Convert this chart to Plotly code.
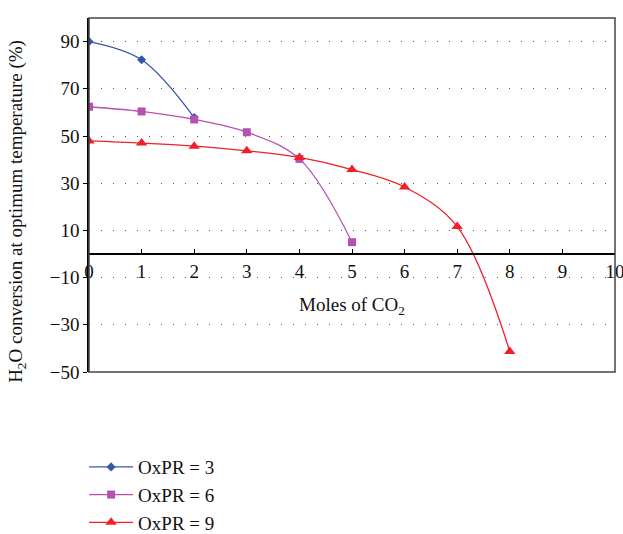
import plotly.graph_objects as go

x3 = [0, 1, 2]
y3 = [90, 82.3, 57.8]
x6 = [0, 1, 2, 3, 4, 5]
y6 = [62.4, 60.4, 57.0, 51.6, 40.3, 5.0]
x9 = [0, 1, 2, 3, 4, 5, 6, 7, 8]
y9 = [47.9, 47.0, 45.7, 43.7, 40.9, 35.8, 28.4, 11.6, -41.3]
names = ["OxPR = 3", "OxPR = 6", "OxPR = 9"]
xticks = list(range(0, 11))
yticks = [-50, -30, -10, 10, 30, 50, 70, 90]
ytitle = "H<sub>2</sub>O conversion at optimum temperature (%)"
xtitle = "Moles of CO<sub>2</sub>"

FONT = "Liberation Serif"
FS = 19

fig = go.Figure()
fig.add_trace(go.Scatter(x=x3, y=y3, name=names[0], mode="lines+markers",
                         line=dict(color="#3556ad", width=1.3, shape="spline"),
                         marker=dict(symbol="diamond", size=7, color="#3556ad")))
fig.add_trace(go.Scatter(x=x6, y=y6, name=names[1], mode="lines+markers",
                         line=dict(color="#b552b0", width=1.3, shape="spline"),
                         marker=dict(symbol="square", size=8, color="#b552b0")))
fig.add_trace(go.Scatter(x=x9, y=y9, name=names[2], mode="lines+markers",
                         line=dict(color="#f02028", width=1.3, shape="spline"),
                         marker=dict(symbol="triangle-up", size=10, color="#f02028")))

fig.update_layout(
    width=623, height=534,
    margin=dict(l=89, r=8, t=18, b=162, autoexpand=False),
    plot_bgcolor="white", paper_bgcolor="white",
    font=dict(family=FONT, size=FS, color="#111"),
    showlegend=True,
    legend=dict(xref="container", yref="container", x=0.135, xanchor="left",
                y=0.161, yanchor="top",
                font=dict(family=FONT, size=FS), tracegroupgap=0, itemwidth=44,
                bgcolor="rgba(0,0,0,0)"),
    xaxis=dict(range=[0, 10], tickvals=xticks, anchor="free", position=1/3,
               showline=True, linecolor="black", linewidth=1.5,
               ticks="inside", ticklen=4, tickcolor="black",
               showgrid=False, zeroline=False, ticklabeloverflow="allow",
               tickfont=dict(family=FONT, size=FS),
               title=dict(text=xtitle, font=dict(family=FONT, size=FS), standoff=16)),
    yaxis=dict(range=[-50, 100], tickvals=yticks, domain=[0, 1],
               showline=True, linecolor="black", linewidth=1.5,
               ticks="outside", ticklen=4, tickcolor="black",
               showgrid=True, gridcolor="#555", gridwidth=1, griddash="1px,11px",
               zeroline=False,
               tickfont=dict(family=FONT, size=FS)),
    annotations=[dict(text=ytitle, xref="paper", yref="paper", x=-0.137, y=0.455,
                      textangle=-90, showarrow=False, xanchor="center", yanchor="middle",
                      font=dict(family=FONT, size=FS))],
    shapes=[dict(type="rect", xref="paper", yref="paper", x0=0, x1=1, y0=0, y1=1,
                 line=dict(color="#444", width=1.5), layer="above")],
)

fig.write_html("out.html")
